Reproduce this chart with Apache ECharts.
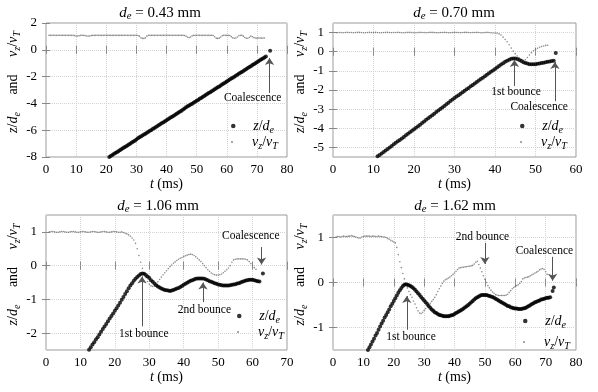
<!DOCTYPE html>
<html><head><meta charset="utf-8">
<script src="https://cdn.jsdelivr.net/npm/echarts@6/dist/echarts.min.js"></script>
<style>html,body{margin:0;padding:0;background:#fff}#c{width:598px;height:392px}</style>
</head><body><div id="c"></div>
<script>
// ---------------- data (sampling step 0.5 ms) ----------------
const DT = 0.5;
const diameters = ['0.43', '0.70', '1.06', '1.62'];
const xMaxes = [80, 60, 70, 80];
const yMins = [-8, -5.5, -2.5, -1.5];
const yMaxes = [2, 1.5, 1.5, 1.5];
const xTicks = [[0,10,20,30,40,50,60,70,80],[0,10,20,30,40,50,60],[0,10,20,30,40,50,60,70],[0,10,20,30,40,50,60,70,80]];
const yTicks = [[-8,-6,-4,-2,0,2],[-5,-4,-3,-2,-1,0,1],[-2,-1,0,1],[-1,0,1]];

// panel 1 : d_e = 0.43 mm
const z1Start = 21;
const z1 = [
-8.00,-7.93,-7.86,-7.78,-7.71,-7.64,-7.57,-7.50,-7.42,-7.35,
-7.28,-7.21,-7.14,-7.06,-6.99,-6.92,-6.85,-6.78,-6.70,-6.60,
-6.52,-6.47,-6.40,-6.33,-6.27,-6.19,-6.12,-6.05,-5.98,-5.90,
-5.83,-5.76,-5.69,-5.62,-5.54,-5.47,-5.40,-5.33,-5.26,-5.18,
-5.11,-5.04,-4.97,-4.90,-4.82,-4.75,-4.68,-4.61,-4.54,-4.46,
-4.38,-4.28,-4.22,-4.16,-4.09,-4.02,-3.95,-3.88,-3.81,-3.74,
-3.66,-3.59,-3.52,-3.45,-3.38,-3.30,-3.23,-3.16,-3.09,-3.02,
-2.94,-2.87,-2.80,-2.73,-2.66,-2.58,-2.51,-2.44,-2.37,-2.30,
-2.22,-2.15,-2.08,-2.01,-1.94,-1.86,-1.79,-1.72,-1.65,-1.58,
-1.50,-1.43,-1.36,-1.29,-1.22,-1.14,-1.07,-1.00,-0.93,-0.86,
-0.78,-0.71,-0.64,-0.57,-0.50];
const z1Coal = [[74.4, -0.08]];
const v1Start = 1;
const v1 = [
1.08,1.08,1.08,1.09,1.08,1.08,1.08,1.09,1.08,1.08,
1.08,1.08,1.09,1.08,1.08,1.08,1.08,1.06,1.03,1.03,
1.05,1.08,1.08,1.08,1.06,1.03,1.03,1.03,1.06,1.08,
1.08,1.08,1.09,1.08,1.08,1.08,1.08,1.09,1.08,1.08,
1.08,1.08,1.08,1.08,1.09,1.08,1.08,1.08,1.08,1.08,
1.08,1.09,1.08,1.08,1.08,1.08,1.08,1.08,1.09,1.07,
1.02,0.90,0.85,0.85,0.89,1.02,1.08,1.08,1.08,1.08,
1.08,1.08,1.09,1.08,1.08,1.08,1.08,1.08,1.09,1.08,
1.08,1.08,1.08,1.08,1.09,1.08,1.08,1.08,1.08,1.08,
1.07,1.02,0.94,0.91,0.96,1.04,1.08,1.08,1.08,1.09,
1.08,1.08,1.08,1.08,1.09,1.08,1.08,1.08,1.08,1.07,
0.97,0.87,0.85,0.87,0.96,1.05,1.08,1.08,1.08,1.08,
1.07,0.98,0.89,0.86,0.88,0.96,1.05,1.08,1.08,1.02,
0.92,0.86,0.86,0.93,1.02,0.97,0.91,0.88,0.87,0.88,
0.88,0.87,0.88,0.88];

// panel 2 : d_e = 0.70 mm
const z2Start = 11;
const z2 = [
-5.46,-5.40,-5.32,-5.24,-5.16,-5.08,-5.00,-4.92,-4.84,-4.76,
-4.68,-4.61,-4.53,-4.45,-4.37,-4.29,-4.21,-4.13,-4.05,-3.97,
-3.89,-3.81,-3.72,-3.64,-3.56,-3.48,-3.40,-3.32,-3.24,-3.15,
-3.07,-2.99,-2.91,-2.83,-2.75,-2.67,-2.58,-2.50,-2.42,-2.34,
-2.27,-2.19,-2.12,-2.04,-1.96,-1.89,-1.81,-1.74,-1.66,-1.58,
-1.51,-1.43,-1.36,-1.28,-1.20,-1.13,-1.05,-0.98,-0.90,-0.83,
-0.75,-0.67,-0.60,-0.53,-0.47,-0.42,-0.37,-0.35,-0.35,-0.38,
-0.43,-0.49,-0.55,-0.59,-0.62,-0.65,-0.66,-0.66,-0.65,-0.63,
-0.61,-0.59,-0.57,-0.55,-0.53,-0.51,-0.49,-0.47];
const z2Coal = [[55, -0.07]];
const v2Start = 1;
const v2 = [
0.99,1.00,1.00,0.99,1.00,1.01,1.00,1.00,0.99,1.00,
1.01,1.01,1.00,0.99,0.99,1.00,1.01,1.00,1.00,1.01,
1.00,0.99,0.99,1.00,1.01,1.01,1.00,0.99,1.00,1.00,
1.01,1.00,0.99,0.99,1.00,1.01,1.01,1.00,0.99,0.99,
1.00,1.01,1.00,1.00,0.99,1.00,1.01,1.01,1.00,0.99,
0.99,1.00,1.00,1.01,1.00,0.99,0.99,1.00,1.01,1.00,
1.00,0.99,1.00,1.01,1.01,1.00,0.99,1.00,1.00,1.01,
1.00,0.99,0.99,1.00,1.01,1.00,0.99,0.98,0.98,0.97,
0.93,0.87,0.76,0.64,0.52,0.36,0.19,0.03,-0.10,-0.22,
-0.32,-0.40,-0.45,-0.42,-0.30,-0.17,-0.05,0.05,0.12,0.18,
0.23,0.27,0.30,0.33,0.34];

// panel 3 : d_e = 1.06 mm
const z3Start = 12.5;
const z3 = [
-2.49,-2.42,-2.34,-2.27,-2.19,-2.12,-2.04,-1.96,-1.88,-1.80,
-1.73,-1.65,-1.57,-1.49,-1.42,-1.34,-1.26,-1.18,-1.10,-1.01,
-0.93,-0.84,-0.76,-0.67,-0.59,-0.52,-0.45,-0.39,-0.34,-0.29,
-0.25,-0.23,-0.24,-0.28,-0.32,-0.37,-0.43,-0.48,-0.53,-0.58,
-0.62,-0.65,-0.68,-0.70,-0.72,-0.73,-0.74,-0.75,-0.74,-0.72,
-0.70,-0.68,-0.66,-0.63,-0.60,-0.57,-0.54,-0.51,-0.48,-0.45,
-0.43,-0.41,-0.39,-0.38,-0.38,-0.38,-0.38,-0.39,-0.41,-0.43,
-0.46,-0.48,-0.50,-0.52,-0.54,-0.56,-0.57,-0.58,-0.59,-0.59,
-0.59,-0.59,-0.58,-0.57,-0.56,-0.55,-0.53,-0.52,-0.50,-0.48,
-0.46,-0.44,-0.43,-0.42,-0.42,-0.42,-0.43,-0.45,-0.46,-0.47];
const z3Coal = [[63, -0.23]];
const v3Start = 1;
const v3 = [
1.00,1.01,1.01,1.00,0.99,0.99,1.00,1.01,1.01,1.00,
0.99,0.99,1.00,1.01,1.01,1.00,0.99,0.99,1.00,1.01,
1.01,1.00,0.99,0.99,1.00,1.01,1.01,1.00,0.99,0.99,
1.00,1.01,1.01,1.00,0.99,0.99,1.00,1.01,1.01,1.00,
0.99,0.99,1.00,0.98,0.96,0.94,0.91,0.87,0.82,0.76,
0.66,0.50,0.30,0.10,-0.08,-0.22,-0.35,-0.47,-0.55,-0.60,
-0.62,-0.60,-0.55,-0.48,-0.41,-0.34,-0.27,-0.21,-0.15,-0.09,
-0.03,0.02,0.07,0.11,0.15,0.19,0.22,0.24,0.27,0.29,
0.31,0.33,0.34,0.33,0.30,0.26,0.22,0.17,0.12,0.06,
0.00,-0.06,-0.12,-0.17,-0.22,-0.25,-0.27,-0.28,-0.28,-0.27,
-0.25,-0.21,-0.17,-0.12,-0.07,0.00,0.10,0.17,0.19,0.20,
0.20,0.20,0.20,0.20,0.19,0.17,0.12,0.06,0.00,-0.06,
-0.11];

// panel 4 : d_e = 1.62 mm
const z4Start = 11.5;
const z4 = [
-1.50,-1.44,-1.38,-1.31,-1.25,-1.18,-1.12,-1.05,-0.98,-0.91,
-0.85,-0.78,-0.72,-0.66,-0.60,-0.53,-0.47,-0.41,-0.35,-0.29,
-0.23,-0.17,-0.12,-0.08,-0.05,-0.04,-0.05,-0.06,-0.08,-0.10,
-0.13,-0.16,-0.20,-0.24,-0.28,-0.32,-0.36,-0.40,-0.44,-0.48,
-0.52,-0.56,-0.60,-0.63,-0.66,-0.68,-0.70,-0.72,-0.73,-0.74,
-0.75,-0.75,-0.75,-0.75,-0.74,-0.73,-0.72,-0.70,-0.68,-0.66,
-0.64,-0.62,-0.60,-0.58,-0.55,-0.53,-0.50,-0.47,-0.44,-0.41,
-0.38,-0.35,-0.33,-0.31,-0.29,-0.28,-0.28,-0.28,-0.28,-0.29,
-0.30,-0.31,-0.32,-0.34,-0.36,-0.38,-0.40,-0.42,-0.44,-0.46,
-0.48,-0.50,-0.52,-0.53,-0.55,-0.56,-0.57,-0.58,-0.58,-0.59,
-0.59,-0.59,-0.58,-0.57,-0.56,-0.54,-0.52,-0.50,-0.48,-0.46,
-0.44,-0.43,-0.41,-0.40,-0.38,-0.37,-0.36,-0.35,-0.34,-0.34,
-0.33];
const z4Coal = [[72.3, -0.19], [72.7, -0.11]];
const v4Start = 1;
const v4 = [
1.01,1.02,1.02,1.01,1.02,1.03,1.02,1.02,1.03,1.03,
1.04,1.03,1.02,1.01,1.00,0.99,0.99,1.01,1.02,1.03,
1.03,1.03,1.03,1.02,1.03,1.03,1.02,1.02,1.03,1.02,
1.02,1.01,1.01,1.00,0.98,0.96,0.94,0.92,0.90,0.88,
0.78,0.62,0.46,0.33,0.20,0.08,-0.04,-0.12,-0.20,-0.27,
-0.33,-0.41,-0.48,-0.56,-0.63,-0.68,-0.69,-0.66,-0.62,-0.58,
-0.53,-0.50,-0.46,-0.42,-0.38,-0.33,-0.27,-0.20,-0.14,-0.08,
-0.02,0.03,0.06,0.08,0.10,0.12,0.15,0.18,0.21,0.25,
0.29,0.32,0.33,0.34,0.34,0.35,0.35,0.36,0.36,0.37,
0.38,0.41,0.45,0.47,0.40,0.32,0.24,0.15,0.07,0.00,
-0.07,-0.12,-0.17,-0.21,-0.24,-0.27,-0.28,-0.29,-0.29,-0.29,
-0.29,-0.29,-0.28,-0.26,-0.22,-0.18,-0.14,-0.11,-0.09,-0.07,
-0.05,-0.02,0.02,0.08,0.10,0.11,0.12,0.13,0.15,0.17,
0.19,0.21,0.23,0.25,0.28,0.30,0.31,0.29,0.24,0.18];

// annotations: [text, text t, text y, arrow t, arrow tail y, arrow tip y]
const notes1 = [['Coalescence', 68.6, -3.57, 74.2, -3.22, -0.61]];
const notes2 = [['1st bounce', 45.2, -2.09, 44.8, -1.79, -0.43], ['Coalescence', 50.9, -2.9, 54.8, -2.58, -0.54]];
const notes3 = [['Coalescence', 59.5, 0.89, 62.6, 0.55, 0.03], ['2nd bounce', 46, -1.31, 45.6, -1.08, -0.5], ['1st bounce', 28.4, -2.03, 27.9, -1.8, -0.32]];
const notes4 = [['2nd bounce', 49.2, 1.01, 50, 0.88, 0.41], ['Coalescence', 69.6, 0.71, 72.3, 0.57, 0.04], ['1st bounce', 25.7, -1.2, 24.3, -1.05, -0.3]];

// ---------------- chart ----------------
const zSets = [[z1Start, z1, z1Coal], [z2Start, z2, z2Coal], [z3Start, z3, z3Coal], [z4Start, z4, z4Coal]];
const vSets = [[v1Start, v1], [v2Start, v2], [v3Start, v3], [v4Start, v4]];
const notes = [notes1, notes2, notes3, notes4];

function seq(t0, vals) { return vals.map((v, i) => [+(t0 + i * DT).toFixed(2), v]); }

const F = '"Liberation Serif", "Times New Roman", serif';
function rich(sz) {
  return {
    n: { fontFamily: F, fontSize: sz, lineHeight: 18, color: '#000' },
    i: { fontFamily: F, fontSize: sz, lineHeight: 18, fontStyle: 'italic', color: '#000' },
    s: { fontFamily: F, fontSize: sz * 0.72, lineHeight: 8, fontStyle: 'italic', verticalAlign: 'bottom', color: '#000' }
  };
}
const RICH = rich(14);
const RICH_T = rich(15);
const ZLAB = '{i|z}{n|/}{i|d}{s|e}';
const VLAB = '{i|v}{s|z}{n|/}{i|v}{s|T}';

const grids = [
  { left: 46, top: 23, width: 241, height: 134 },
  { left: 333, top: 23, width: 243, height: 134 },
  { left: 46, top: 215, width: 241, height: 135 },
  { left: 333, top: 215, width: 243, height: 135 }
];
const titleX = [160, 454, 158, 455];
const titleY = [4, 4, 197, 197];
const legX = [231, 520, 237, 523];
const legY = [[119, 135], [119, 135], [309, 325], [314, 335]];

const option = {
  animation: false,
  backgroundColor: '#fff',
  title: diameters.map((d, p) => ({
    text: '{i|d}{s|e}{n| = ' + d + ' mm}',
    left: titleX[p], top: titleY[p], textAlign: 'center', padding: 0,
    textStyle: { rich: RICH_T, fontFamily: F, fontSize: 15, fontWeight: 'normal' }
  })),
  grid: grids.map(g => Object.assign({ show: true, borderColor: '#9a9a9a', borderWidth: 1, backgroundColor: 'transparent' }, g)),
  legend: [],
  xAxis: [],
  yAxis: [],
  series: []
};

for (let p = 0; p < 4; p++) {
  option.xAxis.push({
    type: 'value', gridIndex: p, min: 0, max: xMaxes[p],
    axisLine: { show: false },
    axisTick: { inside: true, length: 4, lineStyle: { color: '#888' }, customValues: xTicks[p] },
    axisLabel: { customValues: xTicks[p], fontFamily: F, fontSize: 13, color: '#000', margin: 6 },
    splitLine: { show: true, lineStyle: { type: 'dotted', color: '#d2d2d2', width: 1 } },
    name: '{i|t}{n| (ms)}', nameLocation: 'middle', nameGap: 17,
    nameTextStyle: { rich: RICH, fontFamily: F, fontSize: 14 }
  });
  option.yAxis.push({
    type: 'value', gridIndex: p, min: yMins[p], max: yMaxes[p],
    axisLine: { show: false },
    axisTick: { inside: true, length: 4, lineStyle: { color: '#888' }, customValues: yTicks[p] },
    axisLabel: { customValues: yTicks[p], fontFamily: F, fontSize: 13, color: '#000', margin: 9 },
    splitLine: { show: true, lineStyle: { type: 'dotted', color: '#d2d2d2', width: 1 } },
    name: ZLAB + '{n|\u2003 and \u2003}' + VLAB, nameLocation: 'middle', nameGap: 20,
    nameTextStyle: { rich: RICH, fontFamily: F, fontSize: 14, padding: [0, 0, 0, 16] }
  });
}
for (let p = 0; p < 4; p++) {
  option.xAxis.push({
    type: 'value', gridIndex: p, position: 'top', min: 0, max: xMaxes[p],
    axisLine: { show: false }, splitLine: { show: false }, axisLabel: { show: false },
    axisTick: { inside: true, length: 4, lineStyle: { color: '#888' }, customValues: xTicks[p] }
  });
  option.yAxis.push({
    type: 'value', gridIndex: p, position: 'right', min: yMins[p], max: yMaxes[p],
    axisLine: { show: false }, splitLine: { show: false }, axisLabel: { show: false },
    axisTick: { inside: true, length: 4, lineStyle: { color: '#888' }, customValues: yTicks[p] }
  });
}

for (let p = 0; p < 4; p++) {
  const zn = 'z' + (p + 1), vn = 'v' + (p + 1);
  const [zt0, zv, zc] = zSets[p];
  const [vt0, vv] = vSets[p];
  option.series.push({
    type: 'scatter', name: vn, xAxisIndex: p, yAxisIndex: p, silent: true,
    symbol: 'circle', symbolSize: 1.6, itemStyle: { color: '#6e6e6e' },
    data: seq(vt0, vv), z: 2,
    markLine: {
      silent: true, symbol: ['none', 'arrow'], symbolSize: 7,
      lineStyle: { color: '#555', width: 1, type: 'solid' },
      label: { show: false },
      data: notes[p].map(n => [{ coord: [n[3], n[4]] }, { coord: [n[3], n[5]] }])
    },
    markPoint: {
      silent: true, symbol: 'rect', symbolSize: 1, itemStyle: { color: 'rgba(0,0,0,0)' },
      label: { show: true, position: 'inside', formatter: '{b}', fontFamily: F, fontSize: 11.5, color: '#000' },
      data: notes[p].map(n => ({ name: n[0], coord: [n[1], n[2]] }))
    }
  });
  option.series.push({
    type: 'scatter', name: zn, xAxisIndex: p, yAxisIndex: p, silent: true,
    symbol: 'circle', symbolSize: 4, itemStyle: { color: '#000' },
    data: seq(zt0, zv).concat(zc), z: 3
  });
  option.legend.push({
    data: [{ name: zn, icon: 'circle', itemStyle: { color: '#000' } }],
    left: legX[p], top: legY[p][0], padding: 0, itemWidth: 16, itemHeight: 4.5, selectedMode: false,
    formatter: () => '{n|\u2002}' + ZLAB, textStyle: { rich: RICH, fontFamily: F, fontSize: 14 }
  });
  option.legend.push({
    data: [{ name: vn, icon: 'circle', itemStyle: { color: '#6e6e6e' } }],
    left: legX[p], top: legY[p][1], padding: 0, itemWidth: 16, itemHeight: 2, selectedMode: false,
    formatter: () => '{n|\u2002}' + VLAB, textStyle: { rich: RICH, fontFamily: F, fontSize: 14 }
  });
}

const chart = echarts.init(document.getElementById('c'), null, { renderer: 'canvas' });
chart.setOption(option);
</script>
</body></html>
